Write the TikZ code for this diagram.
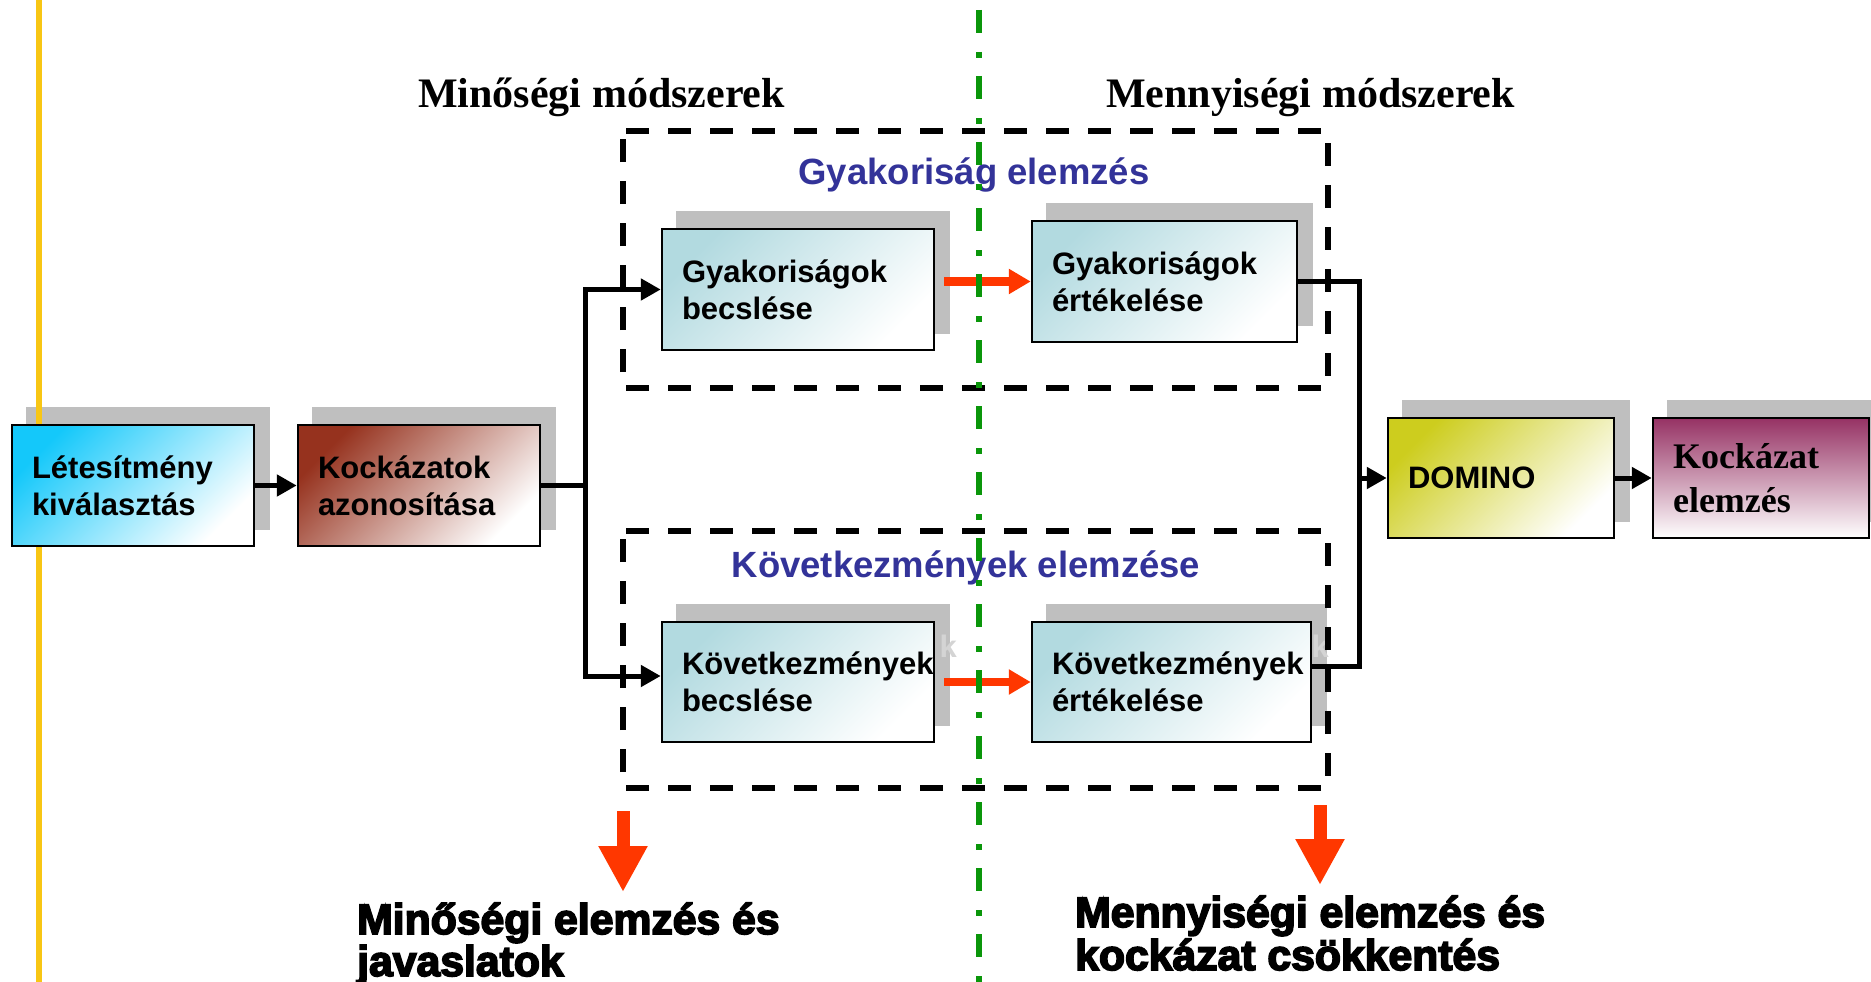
\documentclass[tikz,border=0pt]{standalone}
\usepackage{fontspec}
\setmainfont{Liberation Serif}
\setsansfont{Liberation Sans}
\newfontfamily\heavyfont{Liberation Sans}[BoldFeatures={FakeBold=4}]
\usetikzlibrary{arrows.meta}

\definecolor{cyanc}{RGB}{20,200,250}
\definecolor{brickc}{RGB}{150,50,30}
\definecolor{tealc}{RGB}{178,218,224}
\definecolor{olivec}{RGB}{205,205,30}
\definecolor{plumc}{RGB}{150,50,100}
\definecolor{titleblue}{RGB}{51,51,153}
\definecolor{arrred}{RGB}{255,55,0}
\definecolor{divgreen}{RGB}{10,150,10}
\definecolor{goldc}{RGB}{248,198,20}
\definecolor{ghostc}{RGB}{212,212,212}

\pgfdeclarelayer{background}
\pgfsetlayers{background,main}

\begin{document}
\begin{tikzpicture}[x=1pt,y=-1pt,
  boxbase/.style={inner xsep=20pt, inner ysep=0pt, align=left,
    font=\sffamily\bfseries\fontsize{31}{37}\selectfont},
  box/.style={boxbase, draw=black, line width=2.5pt},
  diag/.style={top color=#1, bottom color=white, shading angle=45},
  ghost/.style={font=\sffamily\bfseries\fontsize{31}{37}\selectfont, text=ghostc, inner sep=0pt, anchor=base east},
  shadowfill/.style={fill=black, fill opacity=0.25},
  conn/.style={line width=5pt},
  blkarrow/.style={conn, -{Triangle[length=20pt,width=21pt]}},
  redarrow/.style={draw=arrred, line width=8.5pt, -{Triangle[length=22pt,width=24pt]}},
  bigred/.style={draw=arrred, line width=13pt, -{Triangle[length=46pt,width=46pt]}},
  dashframe/.style={draw=black, line width=5.5pt, dash pattern=on 23pt off 19pt, dash phase=-3pt},
  title/.style={font=\rmfamily\bfseries\fontsize{42}{50}\selectfont, inner sep=0pt},
  grouplabel/.style={font=\sffamily\bfseries\fontsize{36.5}{44}\selectfont, text=titleblue, inner sep=0pt},
  result/.style={font=\heavyfont\bfseries\fontsize{42.7}{48}\selectfont, inner sep=0pt, anchor=base west},
]
\useasboundingbox (0,0) rectangle (1871,982);

% left edge stripe
\fill[goldc] (36,0) rectangle (42,982);

% column headings
\node[title, anchor=base west] (hqual) at (418,107) {Minőségi módszerek};
\node[title, anchor=base west] (hquant) at (1106,107) {Mennyiségi módszerek};

% dashed group frames
\draw[dashframe] (623,131) -- (1328,131) -- (1328,388) -- (623,388) -- cycle;
\draw[dashframe] (623,531) -- (1328,531) -- (1328,788) -- (623,788) -- cycle;
\node[grouplabel] (gfreq) at (974,175) {Gyakoriság elemzés};
\node[grouplabel] (gcons) at (966,568) {Következmények elemzése};

% process boxes
\node[box, diag=cyanc, text width=202pt, minimum width=242pt, minimum height=121pt]
  (L) at (133,485.5) {Létesítmény\\kiválasztás};
\node[box, diag=brickc, text width=202pt, minimum width=242pt, minimum height=121pt]
  (K) at (419,485.5) {Kockázatok\\azonosítása};
\node[box, diag=tealc, text width=232pt, minimum width=272pt, minimum height=121pt]
  (GB) at (798,289.5) {Gyakoriságok\\becslése};
\node[box, diag=tealc, text width=225pt, minimum width=265pt, minimum height=121pt]
  (GE) at (1164.5,281.5) {Gyakoriságok\\értékelése};
\node[box, diag=tealc, text width=232pt, minimum width=272pt, minimum height=120pt]
  (KB) at (798,682) {Következmények\\becslése};
\node[box, diag=tealc, text width=239pt, minimum width=279pt, minimum height=120pt]
  (KE) at (1171.5,682) {Következmények\\értékelése};
\node[box, diag=olivec, text width=186pt, minimum width=226pt, minimum height=120pt]
  (D) at (1501,478) {DOMINO};
\node[box, top color=plumc, bottom color=white, text width=176pt, minimum width=216pt, minimum height=120pt,
  font=\rmfamily\bfseries\fontsize{36}{44}\selectfont]
  (KA) at (1761,478) {Kockázat\\elemzés};

% drop shadows, with the shadowed overflowing letter showing on them
\begin{pgfonlayer}{background}
  \foreach \n in {L,K,GB,GE,KB,KE,D,KA}
    \fill[shadowfill] ([shift={(15,-17)}]\n.south west) rectangle ([shift={(15,-17)}]\n.north east);
  \node[ghost] (KBs) at (957,657) {k};
  \node[ghost] (KEs) at (1329,657) {k};
\end{pgfonlayer}

% main flow
\coordinate (split) at (585,485.5);
\draw[blkarrow] (L.east) -- (K.east -| K.west);
\draw[conn] (K.east) -- (split);
\draw[blkarrow] (split) |- (GB.west);
\draw[blkarrow] (split) |- ([yshift=6pt]KB.west);

\path (GE.east) ++(61,0) coordinate (jt);
\coordinate (jb) at (jt |- 0,666);
\draw[conn] (GE.east) -- (jt) -- (jb) -- (jb -| KE.east);
\draw[blkarrow] (D.west -| jt) -- (D.west);
\draw[blkarrow] (D.east) -- (KA.west);

% qualitative to quantitative hand-over
\draw[redarrow] ([xshift=9pt]GB.east |- GE.west) -- (GE.west);
\draw[redarrow] ([xshift=9pt]KB.east) -- (KE.west);

% outcomes
\coordinate (qa) at (623,811);
\coordinate (qb) at (623,892);
\coordinate (na) at (1320,805);
\coordinate (nb) at (1320,885);
\draw[bigred] (qa) -- (qb);
\draw[bigred] (na) -- (nb);
\node[result] (r1a) at (357,934) {Minőségi elemzés és};
\node[result] (r1b) at (357,976) {javaslatok};
\node[result] (r2a) at (1075,927) {Mennyiségi elemzés és};
\node[result] (r2b) at (1075,970) {kockázat csökkentés};

% divider between the two method families
\coordinate (dtop) at (979,0);
\coordinate (dbot) at (979,982);
\draw[divgreen, line width=5.5pt, dash pattern=on 23pt off 19pt on 6pt off 18pt, dash phase=-10pt] (dtop) -- (dbot);
\end{tikzpicture}
\end{document}
